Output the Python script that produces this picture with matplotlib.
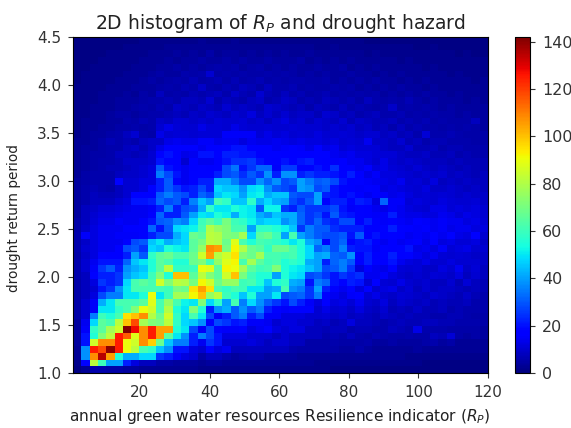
import matplotlib
matplotlib.use('Agg')
import matplotlib.pyplot as plt
import numpy as np

# counts, first row is the bottom one (return period 1.0)
counts = [
 [1,3,6,6,5,5,4,4,3,3, 3,3,3,3,3,2,2,2,2,2, 2,2,2,2,2,2,2,2,2,2, 2,1,1,1,1,1,1,1,1,1, 1,1,1,1,1,1,1,1,1,1],
 [2,18,82,60,40,40,22,12,8,8, 5,5,4,4,4,3,4,4,3,3, 3,3,3,3,3,3,3,3,3,2, 2,2,2,2,2,2,2,2,2,2, 2,2,1,1,1,1,1,1,1,1],
 [3,38,108,135,105,55,42,42,48,48, 25,22,15,12,10,5,8,8,6,4, 5,6,6,4,4,4,4,3,3,3, 3,3,3,3,3,3,3,3,3,3, 2,2,2,2,2,2,2,2,2,2],
 [3,38,125,118,140,125,90,82,62,58, 45,38,20,20,12,10,18,12,14,8, 8,8,8,8,8,8,6,5,5,5, 5,5,4,4,6,4,3,3,3,3, 3,4,3,3,3,3,3,3,3,3],
 [4,20,85,108,108,125,90,85,108,98, 68,45,35,35,22,14,25,20,10,10, 10,12,10,8,10,10,8,8,5,5, 5,6,5,5,5,6,4,4,5,4, 4,4,5,6,4,5,3,3,3,3],
 [4,20,55,72,82,125,115,88,108,125, 105,65,50,38,22,35,28,20,12,12, 12,10,10,10,8,10,8,8,8,8, 6,7,6,8,6,5,7,6,5,5, 6,5,5,8,7,11,5,4,5,4],
 [4,15,58,65,78,85,142,128,108,125, 105,105,55,50,28,15,28,18,15,15, 16,12,14,16,12,10,12,12,8,8, 7,8,8,6,7,7,6,6,8,7, 6,13,6,6,6,5,5,5,5,4],
 [4,14,48,65,62,82,100,118,78,72, 70,82,58,48,45,38,18,28,25,20, 22,15,15,14,10,12,12,10,10,8, 9,7,8,12,8,8,7,6,7,8, 7,7,8,8,7,7,6,6,6,5],
 [5,10,35,60,55,62,95,100,108,80, 68,85,58,48,62,50,28,15,22,30, 35,22,28,15,15,12,12,12,10,10, 11,9,10,8,9,8,7,9,8,7, 8,7,7,6,6,7,7,6,5,5],
 [5,10,15,50,50,58,62,72,90,85, 62,80,55,50,72,55,22,38,42,30, 38,30,35,22,18,15,18,18,18,10, 13,10,11,9,12,9,8,10,7,8, 7,9,7,7,8,6,7,6,6,6],
 [5,10,15,42,50,62,62,62,65,88, 62,75,62,52,50,72,48,58,40,62, 35,48,38,30,25,20,28,22,15,12, 16,12,13,11,14,10,9,12,8,10, 9,8,9,7,8,7,7,8,6,6],
 [5,8,12,28,35,35,50,50,55,90, 50,60,78,78,92,100,75,82,60,55, 45,55,40,40,50,28,30,32,25,35, 18,14,12,15,16,11,13,10,9,11, 10,9,8,10,9,8,7,9,7,6],
 [5,8,10,20,25,38,50,62,62,62, 62,60,70,68,95,105,95,62,58,62, 60,50,50,40,42,62,38,35,25,40, 22,18,14,18,12,16,10,12,13,9, 11,8,10,8,9,9,8,7,8,7],
 [5,8,12,25,22,25,48,62,65,62, 85,72,82,80,70,92,85,68,75,75, 60,62,55,45,55,58,42,40,20,35, 32,20,18,22,20,11,16,11,10,13, 10,9,10,8,8,10,7,11,8,7],
 [6,8,18,22,22,25,40,45,48,60, 72,55,100,100,65,82,72,65,85,100, 70,60,55,55,40,55,50,48,28,30, 25,20,25,22,24,14,14,15,12,10, 9,10,9,11,10,9,12,8,10,8],
 [6,10,15,25,30,22,38,42,45,55, 65,82,58,58,60,90,88,65,92,90, 78,65,60,62,72,55,52,50,45,40, 28,30,35,25,12,16,14,13,16,11, 10,11,9,9,12,10,14,9,11,8],
 [6,10,14,20,20,20,32,45,50,55, 65,62,55,55,68,72,60,75,88,92, 62,78,65,60,62,55,58,55,42,40, 22,32,35,30,16,22,18,16,20,14, 12,11,13,10,10,12,10,10,10,9],
 [5,9,12,18,16,16,22,40,30,58, 65,68,62,62,68,85,105,80,85,95, 72,68,78,62,62,60,62,55,48,40, 42,32,30,38,18,22,16,18,22,16, 18,14,12,14,11,10,11,10,9,9],
 [6,10,12,14,14,16,28,30,25,48, 45,55,52,50,65,75,108,105,70,92, 80,68,65,58,68,68,62,55,48,32, 35,28,36,22,20,20,15,18,16,18, 20,13,14,12,15,11,12,13,10,10],
 [6,9,12,14,14,14,18,28,30,45, 50,42,45,48,65,70,82,80,68,88, 62,55,62,60,58,55,50,55,42,38, 18,28,32,18,20,22,16,14,16,14, 15,16,13,16,12,13,11,11,12,9],
 [6,15,12,14,14,15,15,15,18,22, 28,28,42,48,68,65,82,80,72,70, 78,48,65,68,60,40,62,40,35,30, 28,28,30,20,30,16,20,16,18,16, 14,15,14,18,14,18,13,12,16,10],
 [5,9,12,14,14,14,16,16,18,32, 20,30,48,50,52,62,80,75,72,62, 62,40,58,58,55,52,45,25,35,30, 30,24,22,22,22,18,16,18,22,18, 16,15,16,14,15,13,14,14,12,12],
 [5,8,11,13,13,15,14,14,16,20, 30,32,38,35,48,60,65,60,70,60, 58,52,45,48,48,38,42,32,25,32, 24,22,28,28,18,22,17,15,16,15, 14,16,15,14,15,14,14,12,13,11],
 [4,8,10,12,12,13,14,14,14,16, 32,22,22,30,40,50,48,55,52,42, 52,50,42,38,45,42,42,32,25,28, 20,30,22,20,18,17,15,15,22,14, 13,13,12,12,14,13,11,13,12,10],
 [4,8,9,11,11,12,13,14,14,15, 22,35,22,28,30,42,58,50,50,55, 52,50,30,52,52,25,22,30,25,25, 25,28,20,15,18,16,14,13,15,14, 12,11,10,13,13,11,12,11,12,10],
 [4,6,8,8,8,10,12,20,20,22, 32,28,30,22,36,45,40,62,58,45, 45,58,42,48,42,40,28,24,30,40, 18,22,22,18,22,20,12,32,15,15, 11,12,11,10,12,11,10,10,11,9],
 [4,6,8,7,7,8,10,18,18,18, 30,35,30,28,22,32,28,45,50,48, 40,50,52,42,45,45,30,28,28,40, 22,20,18,20,16,14,16,15,13,14, 12,10,11,10,11,10,9,10,9,9],
 [4,6,7,6,5,8,10,10,12,18, 22,30,25,20,22,28,22,48,45,45, 38,48,50,38,30,28,25,40,38,28, 30,20,18,16,15,18,16,12,13,12, 11,10,12,9,9,10,9,8,9,8],
 [4,5,6,6,6,16,10,10,12,12, 22,30,18,14,18,22,22,42,42,35, 28,28,38,32,38,28,30,40,35,30, 32,28,20,16,18,15,14,13,12,14, 10,11,9,12,8,9,8,9,8,8],
 [3,5,6,6,6,8,9,9,10,12, 35,28,20,14,18,18,18,22,28,30, 24,30,25,38,22,38,38,22,25,22, 22,20,18,22,16,13,15,12,12,11, 10,9,10,9,10,8,9,8,7,8],
 [3,4,5,6,7,7,8,9,10,12, 30,20,18,14,16,18,16,18,28,34, 20,25,32,32,15,26,26,18,18,20, 18,24,16,18,14,16,12,13,11,10, 9,11,9,8,9,8,7,8,7,7],
 [3,4,5,6,6,7,9,9,9,10, 20,18,16,10,16,14,14,16,20,24, 24,26,20,18,16,20,18,20,22,18, 16,15,16,14,14,12,10,13,10,9, 10,9,8,8,8,7,8,7,7,7],
 [3,4,5,5,6,8,8,7,8,10, 18,20,17,13,14,20,20,18,22,22, 20,20,17,18,18,17,17,17,17,18, 18,14,13,14,12,12,11,11,11,9, 8,8,9,7,7,8,6,7,6,6],
 [3,4,4,5,6,6,8,9,7,9, 13,17,16,16,16,14,16,16,18,20, 20,16,17,16,14,15,17,15,13,16, 13,14,11,12,11,11,11,9,8,8, 10,7,7,8,6,7,7,6,6,6],
 [3,3,4,5,7,6,7,6,8,9, 9,13,14,13,13,15,15,13,14,14, 12,14,13,13,14,13,12,13,12,12, 11,12,10,11,10,14,9,9,8,10, 7,8,6,7,7,6,6,6,5,5],
 [2,3,4,4,5,6,8,10,6,5, 13,10,11,11,10,11,11,11,15,15, 15,15,11,13,11,12,10,11,10,12, 10,10,11,10,9,10,10,8,9,7, 8,6,11,6,6,7,6,5,5,5],
 [2,3,3,4,4,5,5,6,5,6, 10,13,11,10,10,13,11,11,10,13, 11,10,10,11,10,10,11,10,10,10, 9,10,9,10,8,9,7,8,6,8, 6,7,6,6,5,6,5,6,5,4],
 [2,3,3,3,4,4,6,5,7,6, 9,8,10,10,9,10,9,11,10,10, 11,9,10,8,10,12,9,10,8,10, 9,8,10,7,9,8,7,7,8,6, 7,6,7,5,6,5,5,5,8,4],
 [2,2,3,3,4,5,5,4,5,6, 6,7,8,7,9,8,10,9,8,10, 9,12,8,10,8,10,8,9,9,7, 10,9,7,8,6,7,8,6,6,7, 5,6,5,6,5,5,4,5,4,4],
 [2,2,3,3,3,4,4,5,6,5, 7,6,9,8,7,9,8,7,10,8, 9,8,7,10,9,8,7,8,6,8, 7,6,8,6,7,6,5,6,9,5, 6,5,6,5,4,5,4,4,4,4],
 [2,2,2,3,3,4,4,4,5,6, 6,7,6,8,8,7,10,6,8,7, 6,8,9,6,7,9,8,6,7,6, 8,7,6,7,5,8,6,5,6,5, 7,5,4,5,4,4,4,3,4,3],
 [2,2,2,3,3,3,4,3,5,4, 8,5,6,5,7,6,7,8,6,9, 7,6,10,7,6,8,6,7,5,6, 7,5,6,5,6,5,6,4,5,4, 5,4,5,4,4,3,4,3,3,3],
 [2,2,2,2,3,3,3,4,4,4, 5,6,5,7,6,9,6,5,7,6, 8,7,5,8,6,6,7,5,6,5, 5,6,5,6,4,5,4,5,4,5, 4,4,3,4,3,3,3,3,3,3],
 [1,2,2,2,2,3,3,3,4,5, 4,5,6,5,7,5,6,7,5,7, 5,6,7,5,6,5,6,6,5,5, 6,4,5,4,5,4,5,4,4,3, 4,3,4,3,3,3,3,3,2,3],
 [1,2,2,2,2,2,3,3,3,4, 5,4,4,6,5,6,10,5,6,5, 6,5,5,6,5,6,5,4,5,4, 5,4,4,5,4,4,3,4,3,4, 3,3,3,3,3,2,3,2,2,2],
 [1,1,2,2,2,2,2,3,3,3, 4,4,5,4,5,4,5,6,5,6, 4,5,6,4,5,4,5,4,4,5, 4,4,5,3,4,3,4,3,3,3, 3,3,2,3,2,2,2,2,2,2],
 [1,1,1,2,2,2,2,2,3,3, 3,4,3,4,4,5,4,4,5,4, 5,4,4,5,4,4,4,5,3,4, 3,4,3,4,3,3,3,3,3,2, 3,2,2,2,2,2,2,2,2,2],
 [1,1,1,1,2,2,2,2,2,3, 3,3,4,3,4,3,5,3,4,4, 3,4,3,4,3,4,3,3,4,3, 3,3,3,3,3,2,3,2,2,2, 2,2,2,2,2,2,1,2,1,1],
 [1,1,1,1,1,1,2,2,2,2, 2,3,3,3,3,3,3,3,3,3, 3,3,3,3,3,3,3,3,3,2, 2,3,2,2,2,2,2,2,2,2, 2,1,1,2,1,1,1,1,1,1],
 [1,1,1,1,1,1,1,1,2,2, 2,2,2,2,2,3,2,2,2,3, 2,2,2,2,2,2,2,2,2,2, 2,2,2,2,2,1,1,1,1,1, 1,1,1,1,1,1,1,1,1,1],
]

x_edges = np.linspace(0.75, 120, 51)
y_edges = np.linspace(1.0, 4.5, 51)
x_ticks = [20, 40, 60, 80, 100, 120]
y_ticks = [1.0, 1.5, 2.0, 2.5, 3.0, 3.5, 4.0, 4.5]
cbar_ticks = [0, 20, 40, 60, 80, 100, 120, 140]

fig = plt.figure(figsize=(5.71, 4.28), dpi=100)
ax = fig.add_axes([73/571, 1-373/428, (488-73)/571, (373-37)/428])
cax = fig.add_axes([515/571, 1-373/428, 15/571, (373-37)/428])

mesh = ax.pcolormesh(x_edges, y_edges, np.array(counts), cmap='jet', vmin=0, vmax=142)
ax.set_xticks(x_ticks)
ax.set_yticks(y_ticks)
ax.tick_params(labelsize=11, pad=5, colors='#333333')
ax.set_xlabel(r'annual green water resources Resilience indicator ($R_P$)', fontsize=11.1, color='#222222')
ax.set_ylabel('drought return period', fontsize=9.8, color='#222222')
ax.xaxis.set_label_coords(0.497, -0.1)
ax.yaxis.set_label_coords(-0.125, 0.46)
ax.set_title(r'2D histogram of $R_P$ and drought hazard', fontsize=13.5, color='#222222')

cbar = fig.colorbar(mesh, cax=cax)
cbar.set_ticks(cbar_ticks)
cbar.ax.tick_params(labelsize=11.5, pad=5, colors='#333333')

fig.savefig('out.png', dpi=100)
